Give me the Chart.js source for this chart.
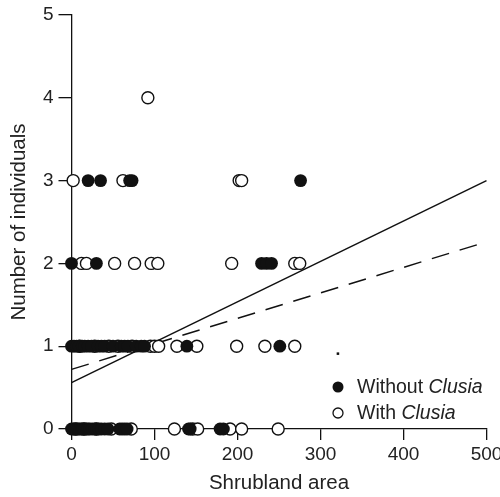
<!DOCTYPE html>
<html lang="en">
<head>
    <meta charset="UTF-8">
    <title>Shrubland area vs individuals</title>
    <script src="https://cdn.jsdelivr.net/npm/chart.js"></script>
    <style>
        body { margin: 0; background: white; overflow: hidden; }
        canvas { display: block; }
    </style>
</head>
<body>
    <canvas id="chart" width="500" height="497"></canvas>
    <script>
        // points without Clusia (filled)
        let withoutX = [0, 2, 4, 6, 8, 10, 12, 14, 16, 18, 20, 22, 25, 28, 30, 33, 36, 40, 44, 58, 61, 64, 67, 141, 143, 179, 183,
                        0, 3, 6, 9, 13, 16, 20, 24, 32, 36, 40, 50, 60, 64, 68, 78, 84, 88, 139, 251,
                        0, 30, 229, 235, 241,
                        20, 35, 70, 73, 276];
        let withoutY = [0, 0, 0, 0, 0, 0, 0, 0, 0, 0, 0, 0, 0, 0, 0, 0, 0, 0, 0, 0, 0, 0, 0, 0, 0, 0, 0,
                        1, 1, 1, 1, 1, 1, 1, 1, 1, 1, 1, 1, 1, 1, 1, 1, 1, 1, 1, 1,
                        2, 2, 2, 2, 2,
                        3, 3, 3, 3, 3];

        // points with Clusia (open)
        let withX = [5, 15, 30, 48, 72, 124, 146, 152, 191, 205, 249,
                     10, 28, 45, 56, 73, 95, 100, 105, 127, 151, 199, 233, 269,
                     12, 18, 52, 76, 96, 104, 193, 269, 275,
                     2, 62, 202, 205,
                     92];
        let withY = [0, 0, 0, 0, 0, 0, 0, 0, 0, 0, 0,
                     1, 1, 1, 1, 1, 1, 1, 1, 1, 1, 1, 1, 1,
                     2, 2, 2, 2, 2, 2, 2, 2, 2,
                     3, 3, 3, 3,
                     4];

        // fitted lines (ends at x = 0 and x = 500)
        let lineX = [0, 500];
        let solidY = [0.56, 3.0];
        let dashedY = [0.72, 2.26];

        // stray dot in the figure
        let dotX = [321];
        let dotY = [0.91];

        let xTicks = [0, 100, 200, 300, 400, 500];
        let yTicks = [0, 1, 2, 3, 4, 5];

        function pts(xs, ys) {
            return xs.map((x, i) => ({ x: x, y: ys[i] }));
        }

        let font = { family: 'Liberation Sans, Arial, sans-serif', size: 19 };
        let titleFont = { family: 'Liberation Sans, Arial, sans-serif', size: 20.5 };

        const legendPlugin = {
            id: 'clusiaLegend',
            afterDraw(chart) {
                let ctx = chart.ctx;
                ctx.save();
                ctx.fillStyle = '#111';
                ctx.strokeStyle = '#111';
                ctx.lineWidth = 1.3;
                ctx.beginPath();
                ctx.arc(338, 387, 5.5, 0, Math.PI * 2);
                ctx.fill();
                ctx.beginPath();
                ctx.arc(338, 413, 5, 0, Math.PI * 2);
                ctx.stroke();
                ctx.fillStyle = '#222';
                ctx.textBaseline = 'middle';
                let x = 357;
                ctx.font = '19.5px Liberation Sans, Arial, sans-serif';
                ctx.fillText('Without ', x, 388);
                let w = ctx.measureText('Without ').width;
                ctx.font = 'italic 19.5px Liberation Sans, Arial, sans-serif';
                ctx.fillText('Clusia', x + w, 388);
                ctx.font = '19.5px Liberation Sans, Arial, sans-serif';
                ctx.fillText('With ', x, 414);
                w = ctx.measureText('With ').width;
                ctx.font = 'italic 19.5px Liberation Sans, Arial, sans-serif';
                ctx.fillText('Clusia', x + w, 414);
                ctx.restore();
            }
        };

        new Chart(document.getElementById('chart'), {
            type: 'scatter',
            data: {
                datasets: [
                    { label: 'Without Clusia', data: pts(withoutX, withoutY), pointRadius: 6.4, pointHoverRadius: 6.4,
                      backgroundColor: '#111', borderColor: '#111', borderWidth: 0, clip: false },
                    { label: 'With Clusia', data: pts(withX, withY), pointRadius: 6, pointHoverRadius: 6,
                      backgroundColor: 'white', borderColor: '#111', borderWidth: 1.4, clip: false },
                    { label: 'dot', data: pts(dotX, dotY), pointStyle: 'rect', pointRadius: 1.8,
                      backgroundColor: '#111', borderWidth: 0, clip: false },
                    { label: 'Without fit', type: 'line', data: pts(lineX, solidY), showLine: true, pointRadius: 0,
                      borderColor: '#111', borderWidth: 1.5, clip: false },
                    { label: 'With fit', type: 'line', data: pts(lineX, dashedY), showLine: true, pointRadius: 0,
                      borderColor: '#111', borderWidth: 1.5, borderDash: [18, 11], clip: false }
                ]
            },
            options: {
                responsive: false,
                animation: false,
                layout: { padding: { top: 15, right: 13.5, left: 0, bottom: 0 } },
                plugins: { legend: { display: false }, tooltip: { enabled: false } },
                scales: {
                    x: {
                        type: 'linear', min: 0, max: 500,
                        afterBuildTicks: s => { s.ticks = xTicks.map(v => ({ value: v })); },
                        afterFit: s => { s.height = 68; s.paddingLeft = 0; s.paddingRight = 0; },
                        border: { display: true, color: '#111', width: 1.3 },
                        grid: { drawOnChartArea: false, drawTicks: true, tickLength: 11, color: '#111', lineWidth: 1.3 },
                        ticks: { color: '#222', font: font, padding: 3, maxRotation: 0 },
                        title: { display: true, text: 'Shrubland area', color: '#222', font: titleFont, padding: { top: 0, bottom: 1 } }
                    },
                    y: {
                        type: 'linear', min: 0, max: 5,
                        afterBuildTicks: s => { s.ticks = yTicks.map(v => ({ value: v })); },
                        afterFit: s => { s.width = 71.5; s.paddingTop = 0; s.paddingBottom = 0; },
                        border: { display: true, color: '#111', width: 1.3 },
                        grid: { drawOnChartArea: false, drawTicks: true, tickLength: 13, color: '#111', lineWidth: 1.3 },
                        ticks: { color: '#222', font: font, padding: 5 },
                        title: { display: true, text: 'Number of individuals', color: '#222', font: titleFont, padding: { top: 7, bottom: 0 } }
                    }
                }
            },
            plugins: [legendPlugin]
        });
    </script>
</body>
</html>
